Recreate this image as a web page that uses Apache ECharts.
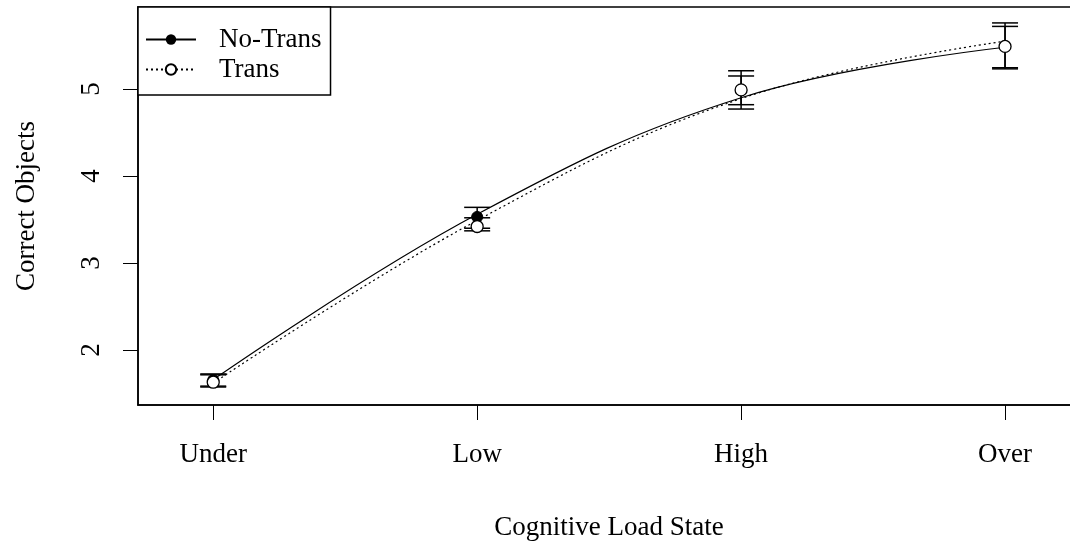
<!DOCTYPE html>
<html>
<head>
<meta charset="utf-8">
<script src="https://cdn.jsdelivr.net/npm/echarts@6/dist/echarts.min.js"></script>
<style>
html,body{margin:0;padding:0;background:#fff;overflow:hidden;width:1070px;height:542px;}
#chart{width:1082px;height:542px;}
</style>
</head>
<body>
<div id="chart"></div>
<script>
// ---- data ----
var categories = ['Under', 'Low', 'High', 'Over'];
var xPositions = [1, 2, 3, 4];
var yTicks = [2, 3, 4, 5];
// fitted curves
var curveNoTrans = [1.66, 3.56, 4.90, 5.48];
var curveTrans   = [1.62, 3.49, 4.89, 5.55];
// means
var meanNoTrans = [1.655, 3.53, 4.985, 5.49];
var meanTrans   = [1.63, 3.42, 4.99, 5.49];
// error bar ends
var lowNoTrans  = [1.585, 3.40, 4.82, 5.245];
var highNoTrans = [1.725, 3.64, 5.15, 5.72];
var lowTrans    = [1.575, 3.37, 4.77, 5.232];
var highTrans   = [1.715, 3.52, 5.21, 5.76];

var FONT = '"Liberation Serif", "Times New Roman", serif';
var FS = 27;

function pairs(ys){ return xPositions.map(function(x,i){ return [x, ys[i]]; }); }
function bars(lo, hi){ return xPositions.map(function(x,i){ return [x, lo[i], hi[i]]; }); }

function renderErr(params, api){
  var x = api.value(0);
  var p1 = api.coord([x, api.value(1)]);
  var p2 = api.coord([x, api.value(2)]);
  var hw = 13;
  var st = {stroke:'#000', lineWidth:1.5};
  return {type:'group', children:[
    {type:'line', shape:{x1:p1[0], y1:p1[1], x2:p2[0], y2:p2[1]}, style:st},
    {type:'line', shape:{x1:p1[0]-hw, y1:p1[1], x2:p1[0]+hw, y2:p1[1]}, style:st},
    {type:'line', shape:{x1:p2[0]-hw, y1:p2[1], x2:p2[0]+hw, y2:p2[1]}, style:st}
  ]};
}

var chart = echarts.init(document.getElementById('chart'), null, {renderer:'canvas'});
chart.setOption({
  animation:false,
  backgroundColor:'#fff',
  textStyle:{fontFamily:FONT, color:'#000'},
  grid:{left:138, top:7, right:2, bottom:137, outerBoundsMode:'none', containLabel:false,
    show:true, borderColor:'#000', borderWidth:1.5, backgroundColor:'transparent'},
  legend:{
    left:138, top:7, orient:'vertical',
    padding:[19, 9, 12, 7], itemGap:3,
    itemWidth:50, itemHeight:13,
    backgroundColor:'#fff', borderColor:'#000', borderWidth:1.5, borderRadius:0,
    textStyle:{fontFamily:FONT, fontSize:FS, color:'#000', padding:[0,0,0,18]},
    data:['No-Trans','Trans']
  },
  xAxis:{
    type:'value', min:0.715, max:4.284,
    name:'Cognitive Load State', nameLocation:'middle', nameGap:109,
    nameTextStyle:{fontFamily:FONT, fontSize:FS, color:'#000'},
    axisLine:{show:true, lineStyle:{color:'#000', width:1.5}},
    axisTick:{show:true, inside:false, length:15, lineStyle:{color:'#000', width:1}, customValues:xPositions},
    axisLabel:{fontFamily:FONT, fontSize:FS, color:'#000', margin:36, customValues:xPositions,
      formatter:function(v){ var i = xPositions.indexOf(v); return i>=0 ? categories[i] : ''; }},
    splitLine:{show:false}
  },
  yAxis:{
    type:'value', min:1.368, max:5.943,
    name:'Correct Objects', nameLocation:'middle', nameGap:98,
    nameTextStyle:{fontFamily:FONT, fontSize:FS, color:'#000'},
    axisLine:{show:true, lineStyle:{color:'#000', width:1.5}},
    axisTick:{show:true, inside:false, length:15, lineStyle:{color:'#000', width:1}, customValues:yTicks},
    axisLabel:{fontFamily:FONT, fontSize:FS, color:'#000', margin:33, rotate:90, customValues:yTicks},
    splitLine:{show:false}
  },
  series:[
    {name:'No-Trans', type:'line', smooth:0.4, data:pairs(curveNoTrans),
      symbol:'circle', symbolSize:11, showSymbol:false,
      itemStyle:{color:'#000', borderColor:'#000'},
      lineStyle:{color:'#000', width:1.2, type:'solid'}, z:2},
    {name:'Trans', type:'line', smooth:0.4, data:pairs(curveTrans),
      symbol:'emptyCircle', symbolSize:12, showSymbol:false,
      itemStyle:{color:'#000', borderColor:'#000', borderWidth:1.3},
      lineStyle:{color:'#000', width:1.2, type:[2,3]}, z:2},
    {name:'errNoTrans', type:'custom', renderItem:renderErr, data:bars(lowNoTrans, highNoTrans), z:3, silent:true},
    {name:'errTrans', type:'custom', renderItem:renderErr, data:bars(lowTrans, highTrans), z:3, silent:true},
    {name:'ptsNoTrans', type:'scatter', data:pairs(meanNoTrans), symbol:'circle', symbolSize:11,
      itemStyle:{color:'#000', borderColor:'#000', borderWidth:1, opacity:1}, z:4},
    {name:'ptsTrans', type:'scatter', data:pairs(meanTrans), symbol:'circle', symbolSize:12,
      itemStyle:{color:'#fff', borderColor:'#000', borderWidth:1.3, opacity:1}, z:5}
  ]
});
</script>
</body>
</html>
